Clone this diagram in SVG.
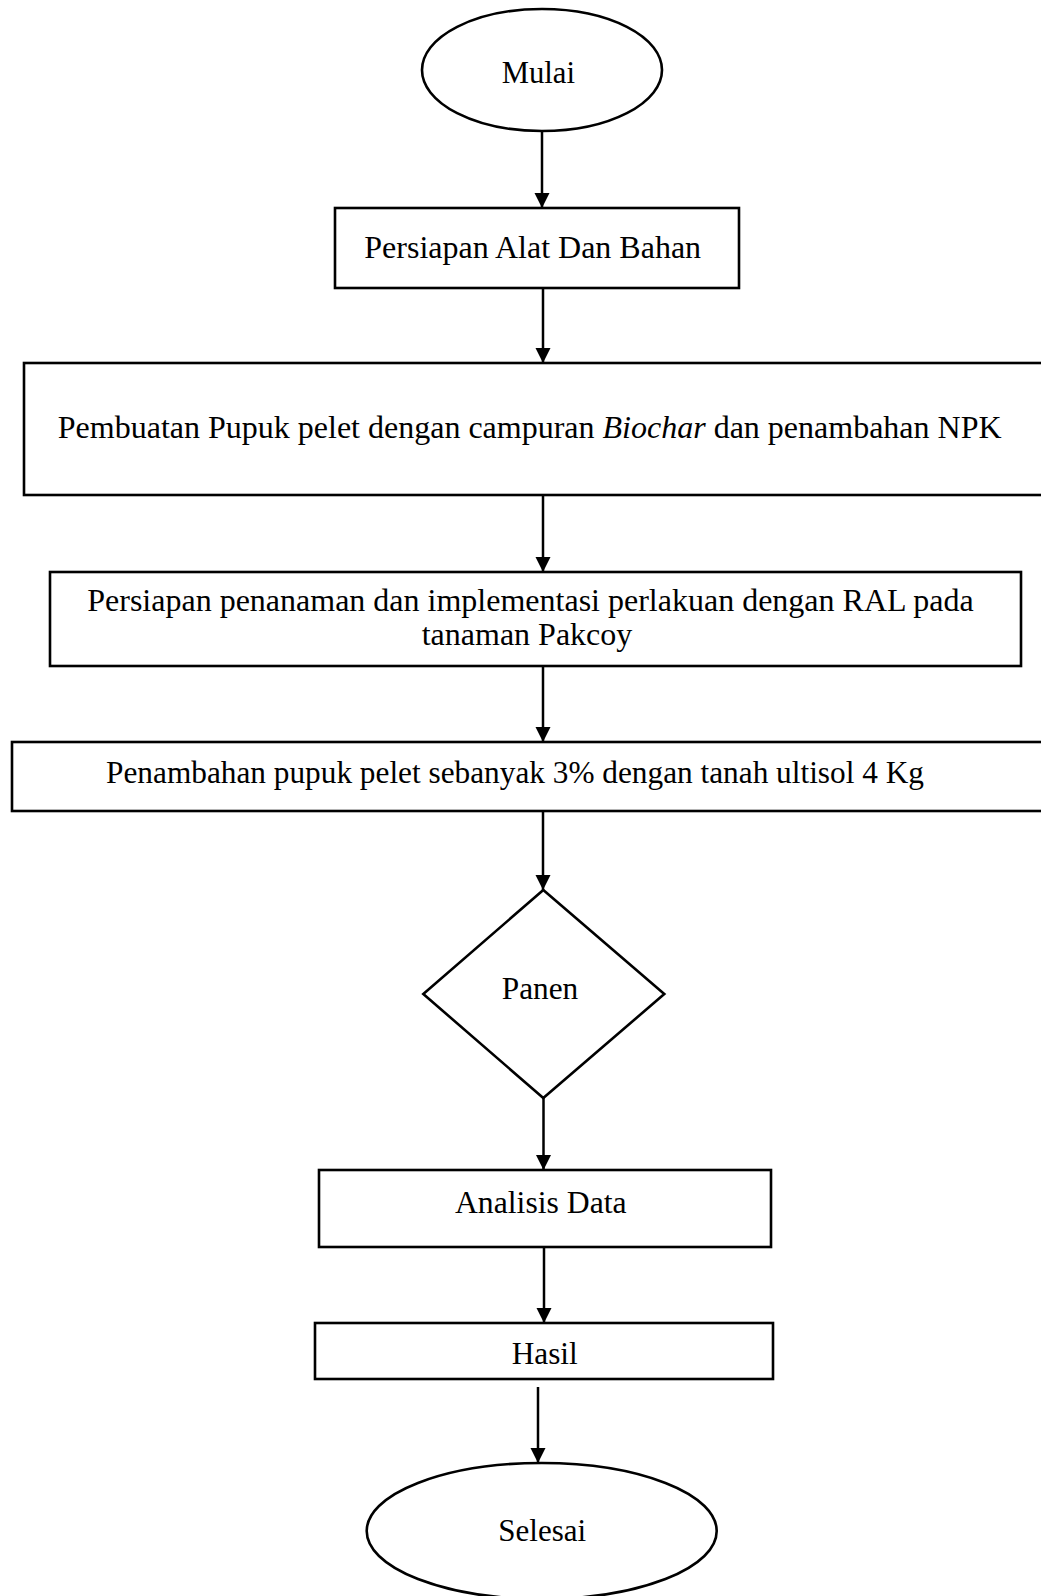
<svg xmlns="http://www.w3.org/2000/svg" width="1041" height="1596" viewBox="0 0 1041 1596">
<style>
.s{fill:#fff;stroke:#000;stroke-width:2.6}
.t{fill:#000;text-anchor:middle}
.c{stroke:#000;stroke-width:2.5;fill:none;marker-end:url(#ah)}
</style>
<defs>
<marker id="ah" markerUnits="userSpaceOnUse" markerWidth="16" markerHeight="16" refX="15" refY="7.5" orient="auto">
<path d="M0,0 L15,7.5 L0,15 Z" fill="#000"/>
</marker>
</defs>
<rect width="1041" height="1596" fill="#fff"/>
<g id="connectors">
<line class="c" x1="542" y1="131" x2="542" y2="208"/>
<line class="c" x1="543" y1="288" x2="543" y2="363"/>
<line class="c" x1="543" y1="495" x2="543" y2="572"/>
<line class="c" x1="543" y1="666" x2="543" y2="742"/>
<line class="c" x1="543" y1="811" x2="543" y2="890"/>
<line class="c" x1="543.5" y1="1098" x2="543.5" y2="1170"/>
<line class="c" x1="544" y1="1247" x2="544" y2="1323"/>
<line class="c" x1="538" y1="1387" x2="538" y2="1463"/>
</g>
<g id="mulai">
<ellipse class="s" cx="542" cy="70" rx="120" ry="61"/>
<text class="t" font-family="Liberation Serif" font-size="30.7" x="538.3" y="83">Mulai</text>
</g>
<g id="persiapan-alat">
<rect class="s" x="335" y="208" width="404" height="80"/>
<text class="t" font-family="Liberation Serif" font-size="32" x="532.7" y="258">Persiapan Alat Dan Bahan</text>
</g>
<g id="pembuatan">
<rect class="s" x="24" y="363" width="1020" height="132"/>
<text class="t" font-family="Liberation Serif" font-size="32" x="529.7" y="438">Pembuatan Pupuk pelet dengan campuran <tspan font-style="italic">Biochar</tspan> dan penambahan NPK</text>
</g>
<g id="persiapan-penanaman">
<rect class="s" x="50" y="572" width="971" height="94"/>
<text class="t" font-family="Liberation Serif" font-size="32" x="530.5" y="611">Persiapan penanaman dan implementasi perlakuan dengan RAL pada</text>
<text class="t" font-family="Liberation Serif" font-size="32" x="527" y="645">tanaman Pakcoy</text>
</g>
<g id="penambahan">
<rect class="s" x="12" y="742" width="1032" height="69"/>
<text class="t" font-family="Liberation Serif" font-size="31.3" x="515" y="783">Penambahan pupuk pelet sebanyak 3% dengan tanah ultisol 4 Kg</text>
</g>
<g id="panen">
<polygon class="s" points="543.3,890 664.3,994 543.3,1098 423.3,994"/>
<text class="t" font-family="Liberation Serif" font-size="31.3" x="540" y="999">Panen</text>
</g>
<g id="analisis">
<rect class="s" x="319" y="1170" width="452" height="77"/>
<text class="t" font-family="Liberation Serif" font-size="31.7" x="540.8" y="1213">Analisis Data</text>
</g>
<g id="hasil">
<rect class="s" x="315" y="1323" width="458" height="56"/>
<text class="t" font-family="Liberation Serif" font-size="31.3" x="544.7" y="1364">Hasil</text>
</g>
<g id="selesai">
<ellipse class="s" cx="541.7" cy="1531" rx="175" ry="68"/>
<text class="t" font-family="Liberation Serif" font-size="31" x="542.2" y="1541">Selesai</text>
</g>
</svg>
